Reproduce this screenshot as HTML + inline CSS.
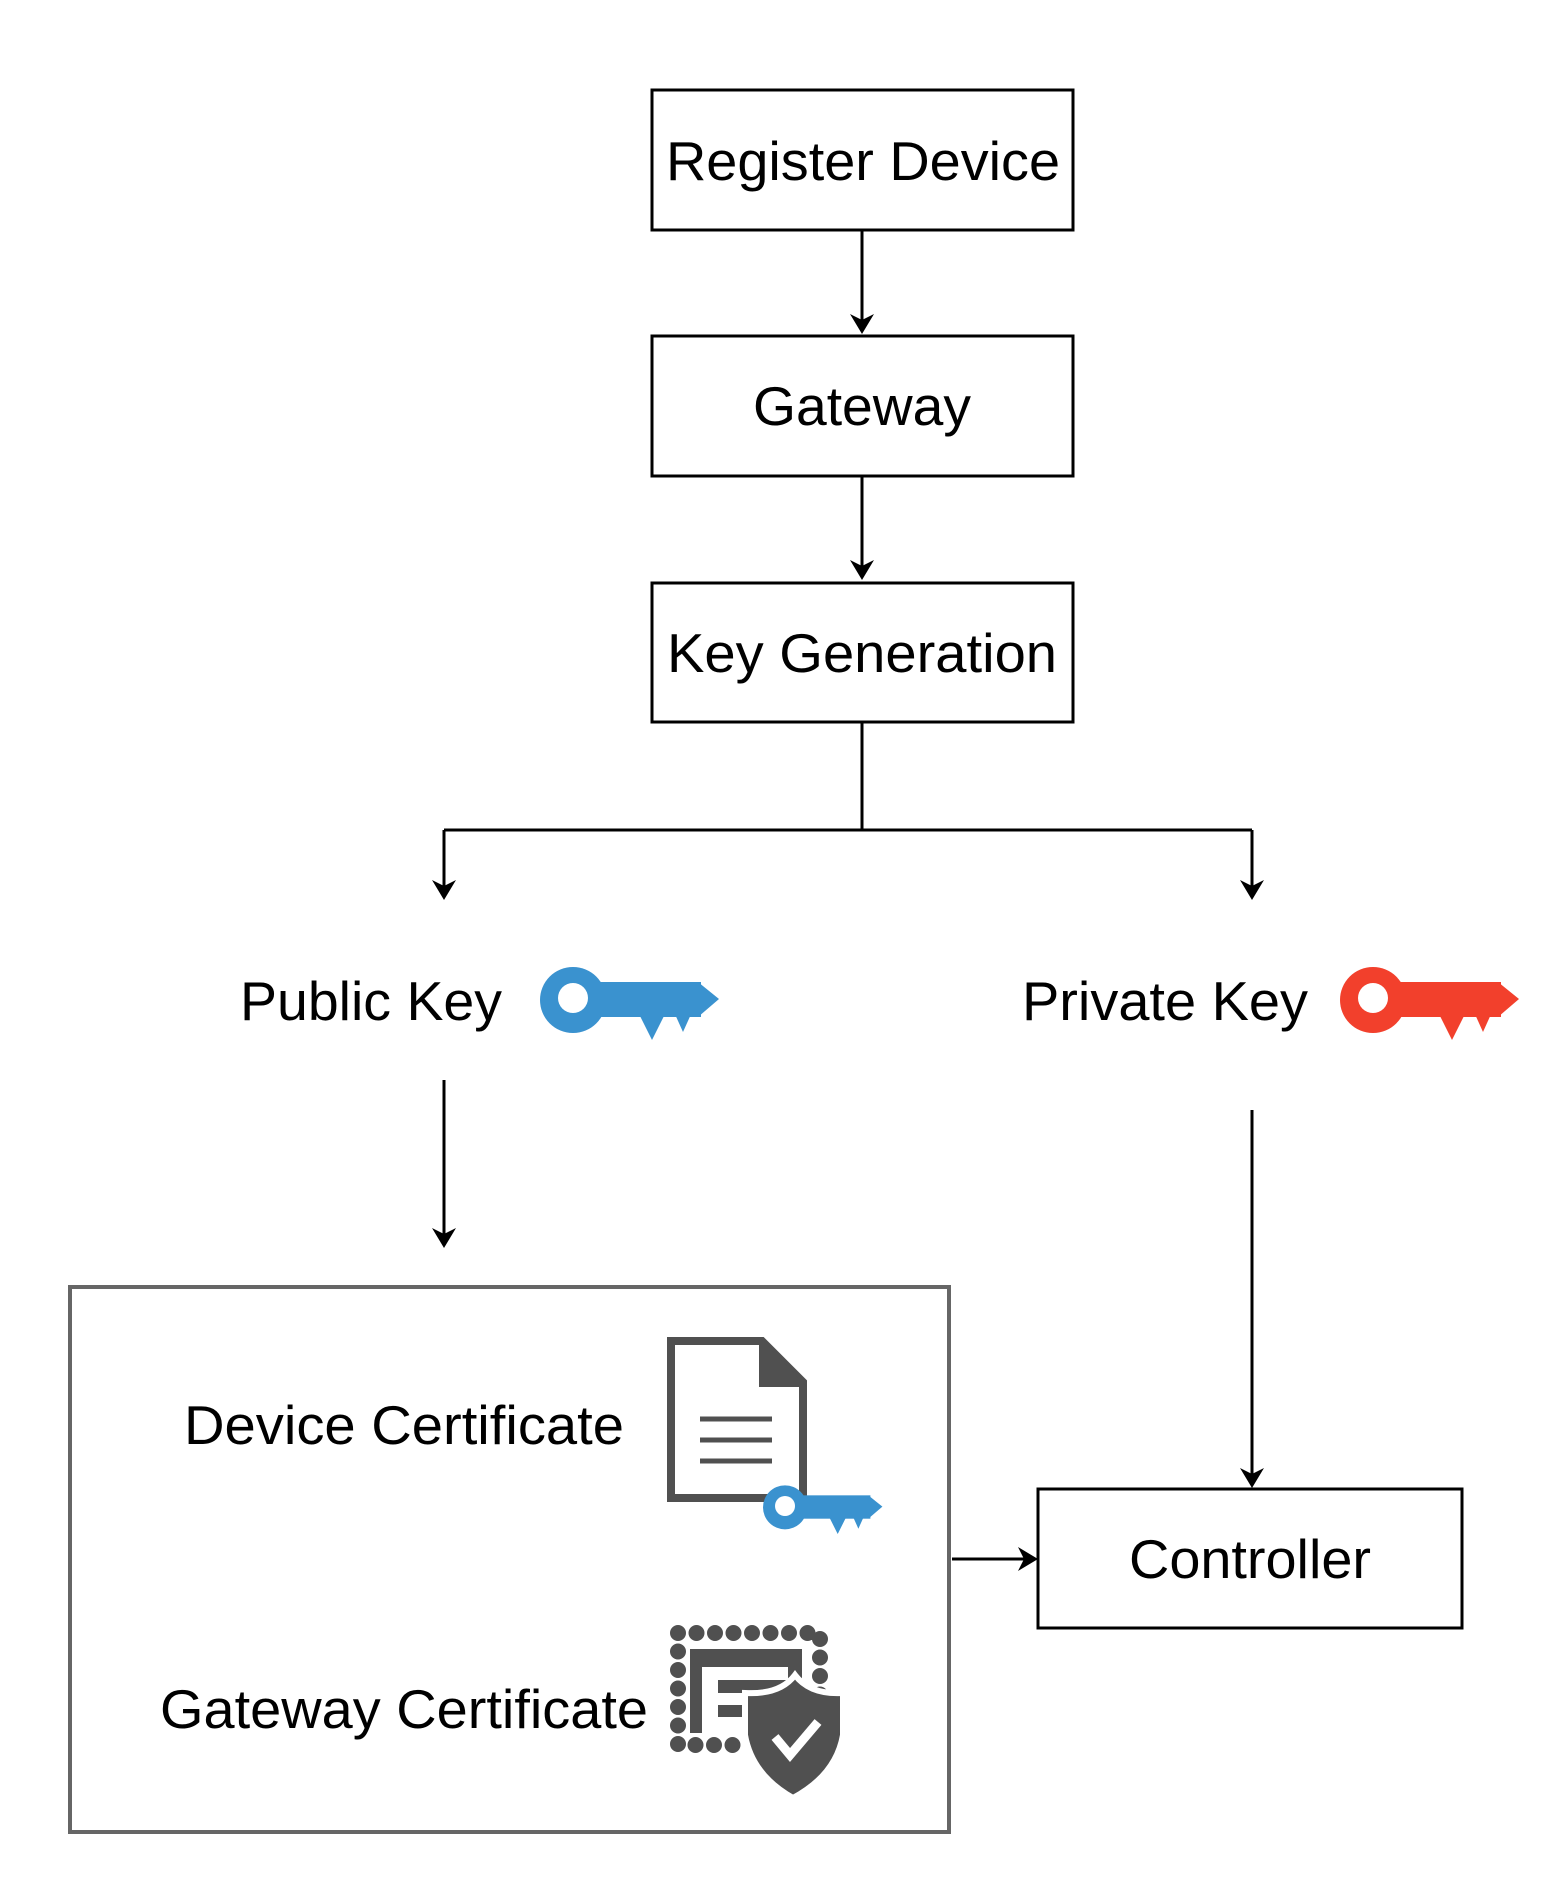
<!DOCTYPE html>
<html><head><style>html,body{margin:0;padding:0;background:#fff}svg{display:block}</style></head>
<body>
<svg width="1560" height="1878" viewBox="0 0 1560 1878" xmlns="http://www.w3.org/2000/svg" font-family="Liberation Sans, Arial, sans-serif">
<defs>
<g id="key">
<circle cx="33" cy="38" r="33"/>
<rect x="33" y="20" width="128" height="35"/>
<polygon points="158,20 179,37 158,55"/>
<polygon points="98,50 126,50 112,78"/>
<polygon points="134,50 152,50 143,70"/>
<circle cx="33" cy="36" r="15" fill="#fff"/>
</g>
</defs>
<g fill="none" stroke="#000" stroke-width="3">
<rect x="652" y="90" width="421" height="140"/>
<rect x="652" y="336" width="421" height="140"/>
<rect x="652" y="583" width="421" height="139"/>
<rect x="1038" y="1489" width="424" height="139"/>
<path d="M862 230V322M862 476V568M862 722V830M444 830H1252M444 830V888M1252 830V888M444 1080V1236M1252 1110V1476M952 1559H1026"/>
</g>
<g fill="#000">
<polygon points="850,314 862,320 874,314 862,334"/>
<polygon points="850,560 862,566 874,560 862,580"/>
<polygon points="432,880 444,886 456,880 444,900"/>
<polygon points="1240,880 1252,886 1264,880 1252,900"/>
<polygon points="432,1228 444,1234 456,1228 444,1248"/>
<polygon points="1240,1468 1252,1474 1264,1468 1252,1488"/>
<polygon points="1018,1547 1024,1559 1018,1571 1038,1559"/>
</g>
<rect x="70" y="1287" width="879" height="545" fill="none" stroke="#666" stroke-width="4"/>
<g font-size="55" fill="#000">
<text x="863" y="180" text-anchor="middle" textLength="394" lengthAdjust="spacingAndGlyphs">Register Device</text>
<text x="862" y="425" text-anchor="middle" textLength="218" lengthAdjust="spacingAndGlyphs">Gateway</text>
<text x="862" y="672" text-anchor="middle" textLength="390" lengthAdjust="spacingAndGlyphs">Key Generation</text>
<text x="240" y="1020" textLength="262" lengthAdjust="spacingAndGlyphs">Public Key</text>
<text x="1022" y="1020" textLength="286" lengthAdjust="spacingAndGlyphs">Private Key</text>
<text x="1250" y="1578" text-anchor="middle" textLength="242" lengthAdjust="spacingAndGlyphs">Controller</text>
<text x="184" y="1444" textLength="440" lengthAdjust="spacingAndGlyphs">Device Certificate</text>
<text x="160" y="1728" textLength="488" lengthAdjust="spacingAndGlyphs">Gateway Certificate</text>
</g>
<use href="#key" x="540" y="962" fill="#3a92cf"/>
<use href="#key" x="1340" y="962" fill="#f2402c"/>
<g>
<path d="M671 1341H762L803 1382V1498H671Z" fill="#fff" stroke="#505050" stroke-width="8"/>
<polygon points="759,1337 807,1387 759,1387" fill="#505050"/>
<g stroke="#505050" stroke-width="5"><path d="M700 1419H772M700 1440H772M700 1461H772"/></g>
</g>
<g transform="translate(763,1482) scale(0.667)" fill="#3a92cf">
<circle cx="33" cy="38" r="33"/>
<rect x="33" y="20" width="128" height="35"/>
<polygon points="158,20 179,37 158,55"/>
<polygon points="98,50 126,50 112,78"/>
<polygon points="134,50 152,50 143,70"/>
<circle cx="33" cy="36" r="15" fill="#fff"/>
</g>
<g>
<path d="M678 1633H820V1740M678 1633V1745H745" fill="none" stroke="#505050" stroke-width="16" stroke-linecap="round" stroke-dasharray="0 18.5"/>
<rect x="690" y="1649" width="112" height="84" fill="#505050"/>
<path d="M702 1667H788V1680H718V1693H745V1705H718V1717H745V1733H702Z" fill="#fff"/>
<path d="M795 1675Q780 1695 745 1693V1735Q752 1775 793 1798Q836 1775 843 1735V1693Q810 1695 795 1675Z" fill="#505050" stroke="#fff" stroke-width="6"/>
<path d="M775 1737L790 1755L818 1722" fill="none" stroke="#fff" stroke-width="9"/>
</g>
</svg>
</body></html>
